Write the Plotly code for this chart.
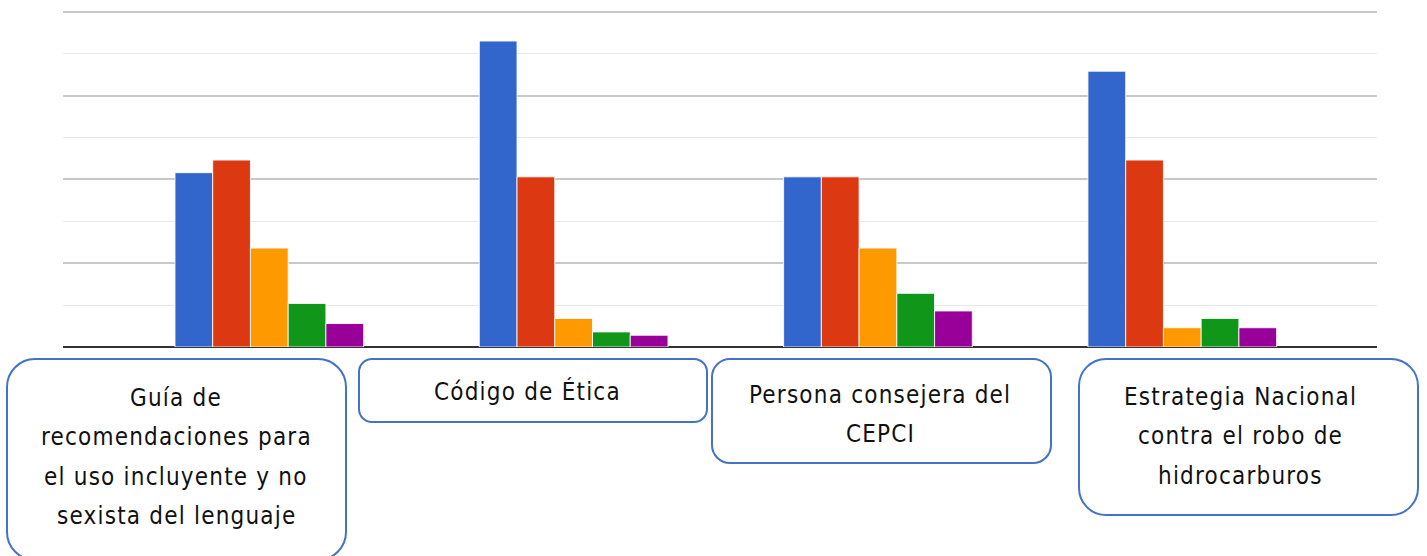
import plotly.graph_objects as go

# Categories (group order) and the text shown in each label box, line by line
categories = ["Guía", "Código", "Persona", "Estrategia"]
label_lines = [
    ["Guía de", "recomendaciones para", "el uso incluyente y no", "sexista del lenguaje"],
    ["Código de Ética"],
    ["Persona consejera del", "CEPCI"],
    ["Estrategia Nacional", "contra el robo de", "hidrocarburos"],
]

# Five series per group
serie_1 = [20.8, 36.5, 20.3, 32.9]
serie_2 = [22.3, 20.3, 20.3, 22.3]
serie_3 = [11.8, 3.4, 11.8, 2.3]
serie_4 = [5.2, 1.8, 6.4, 3.4]
serie_5 = [2.8, 1.4, 4.3, 2.3]

series = [serie_1, serie_2, serie_3, serie_4, serie_5]
colors = ["#3366cc", "#dc3912", "#ff9900", "#109618", "#990099"]

W, H = 1427, 556
Y_MAX = 40.2          # a little headroom so the top gridline (40) is drawn
BASE_PX, TOP40_PX = 347, 11.7
top_px = BASE_PX - (BASE_PX - TOP40_PX) * Y_MAX / 40


def px(x):
    return x / W


def py(y):
    return 1 - y / H


fig = go.Figure()
for i, (vals, col) in enumerate(zip(series, colors)):
    fig.add_trace(go.Bar(
        x=categories, y=vals, name=f"Serie {i + 1}",
        marker=dict(color=col, line=dict(color="rgba(255,255,255,0.85)", width=1)),
        hoverinfo="y",
    ))


def rounded_box(x0, y0, x1, y1, r):
    """SVG path (paper coords) for a rounded rectangle given in pixels."""
    k = 0.5523 * r
    pts = []
    pts.append(f"M {px(x0 + r)},{py(y0)}")
    pts.append(f"L {px(x1 - r)},{py(y0)}")
    pts.append(f"C {px(x1 - r + k)},{py(y0)} {px(x1)},{py(y0 + r - k)} {px(x1)},{py(y0 + r)}")
    pts.append(f"L {px(x1)},{py(y1 - r)}")
    pts.append(f"C {px(x1)},{py(y1 - r + k)} {px(x1 - r + k)},{py(y1)} {px(x1 - r)},{py(y1)}")
    pts.append(f"L {px(x0 + r)},{py(y1)}")
    pts.append(f"C {px(x0 + r - k)},{py(y1)} {px(x0)},{py(y1 - r + k)} {px(x0)},{py(y1 - r)}")
    pts.append(f"L {px(x0)},{py(y0 + r)}")
    pts.append(f"C {px(x0)},{py(y0 + r - k)} {px(x0 + r - k)},{py(y0)} {px(x0 + r)},{py(y0)}")
    pts.append("Z")
    return " ".join(pts)


# Label boxes: (left, top, right, bottom, corner radius, text centre x, first line y)
boxes = [
    (7, 359, 346, 560, 28, 176, 398),
    (359, 359, 707, 422, 13, 527, 391),
    (712, 359, 1051, 463, 18, 880, 395),
    (1079, 359, 1418, 515, 27, 1240, 397),
]
line_pitch = 39.3

shapes = []
annotations = []
for (x0, y0, x1, y1, r, cx, ty), lines in zip(boxes, label_lines):
    shapes.append(dict(
        type="path", xref="paper", yref="paper", path=rounded_box(x0, y0, x1, y1, r),
        line=dict(color="#4472c4", width=2), fillcolor="white", layer="above",
    ))
    for j, line in enumerate(lines):
        annotations.append(dict(
            xref="paper", yref="paper", x=px(cx), y=py(ty + j * line_pitch),
            xanchor="center", yanchor="middle", showarrow=False,
            text=f'<span style="letter-spacing:1.2px">{line}</span>',
            font=dict(family="Liberation Sans Narrow, DejaVu Sans Condensed, Arial Narrow, sans-serif",
                      size=24, color="#111111"),
        ))

fig.update_layout(
    width=W, height=H,
    margin=dict(l=0, r=0, t=0, b=0),
    paper_bgcolor="white", plot_bgcolor="white",
    barmode="group", bargap=0.38, bargroupgap=0.0,
    showlegend=False,
    xaxis=dict(
        domain=[px(62.7), px(1376.7)],
        range=[-0.6789, 3.6388],
        showticklabels=False, ticks="", showgrid=False, zeroline=False,
        showline=False, fixedrange=True,
    ),
    yaxis=dict(
        domain=[py(BASE_PX), py(top_px)],
        range=[0, Y_MAX], dtick=10, tick0=0,
        showticklabels=False, ticks="",
        showgrid=True, gridcolor="#c8c8c8", gridwidth=1.5,
        minor=dict(dtick=5, showgrid=True, gridcolor="#e8e8e8", gridwidth=1.2),
        zeroline=True, zerolinecolor="#333333", zerolinewidth=2,
        showline=False, fixedrange=True,
    ),
    shapes=shapes,
    annotations=annotations,
)

fig.write_html("out.html")
